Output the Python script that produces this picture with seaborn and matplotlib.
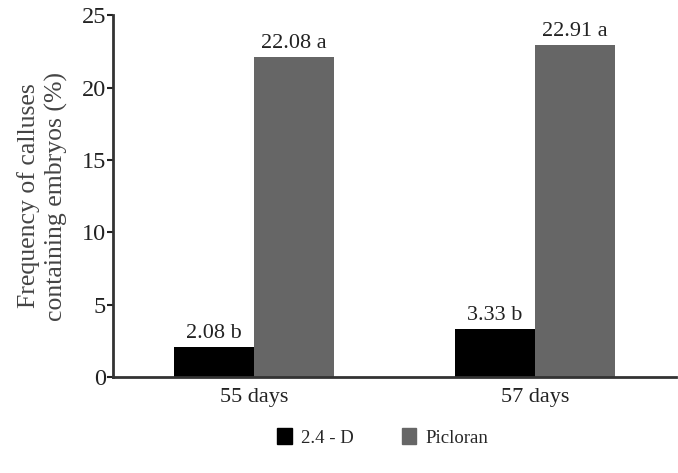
import pandas as pd
import numpy as np
import seaborn as sns
import matplotlib.pyplot as plt

days = ["55 days", "57 days"]
treatments = ["2.4 - D", "Picloran"]
val_24d = [2.08, 3.33]
val_picloran = [22.08, 22.91]
letters_24d = ["b", "b"]
letters_picloran = ["a", "a"]
yticks = [0, 5, 10, 15, 20, 25]

df = pd.DataFrame({
    "day": days * 2,
    "treatment": [treatments[0]] * 2 + [treatments[1]] * 2,
    "value": val_24d + val_picloran,
})

sns.set_theme(style="white")
plt.rcParams['font.family'] = ['Liberation Serif', 'DejaVu Serif']

fig = plt.figure(figsize=(6.78, 4.73), dpi=100)
ax = fig.add_axes([0.1667, 0.203, 0.830, 0.765])

sns.barplot(data=df, x="day", y="value", hue="treatment",
            palette=["#000000", "#666666"], saturation=1, width=0.57,
            linewidth=0, ax=ax, legend=False)

for cont, vals, lets in zip(ax.containers, [val_24d, val_picloran],
                            [letters_24d, letters_picloran]):
    ax.bar_label(cont, labels=[f"{v:.2f} {l}" for v, l in zip(vals, lets)],
                 padding=3, fontsize=16, color="#222222")

ax.set_xlim(-0.5, 1.5)
ax.set_ylim(0, 25)
ax.set_yticks(yticks)
ax.set_xticks([0, 1])
ax.set_xticklabels(days)
ax.set_xticks([-0.5, 0.5, 1.5], minor=True)
ax.tick_params(axis="x", which="major", length=0, labelsize=16, pad=8, colors="#222222")
ax.tick_params(axis="x", which="minor", length=4, width=1.5, direction="out", color="#333333")
ax.tick_params(axis="y", length=4, width=1.5, labelsize=17.5, left=True, pad=1,
               colors="#222222")
ax.set_xlabel("")
ax.set_ylabel("Frequency of calluses\ncontaining embryos (%)", fontsize=18.5,
              color="#444444", labelpad=10, linespacing=1.25)

sns.despine(ax=ax)
for s in ["left", "bottom"]:
    ax.spines[s].set_linewidth(2)
    ax.spines[s].set_color("#333333")

handles = [plt.Rectangle((0, 0), 1, 1, color=c) for c in ["#000000", "#666666"]]
fig.legend(handles, treatments, loc="center", bbox_to_anchor=(0.565, 0.075),
           ncol=2, frameon=False, fontsize=13.5, handlelength=0.75,
           handleheight=0.9, columnspacing=2.6, handletextpad=0.5)

fig.savefig("out.png", dpi=100)
